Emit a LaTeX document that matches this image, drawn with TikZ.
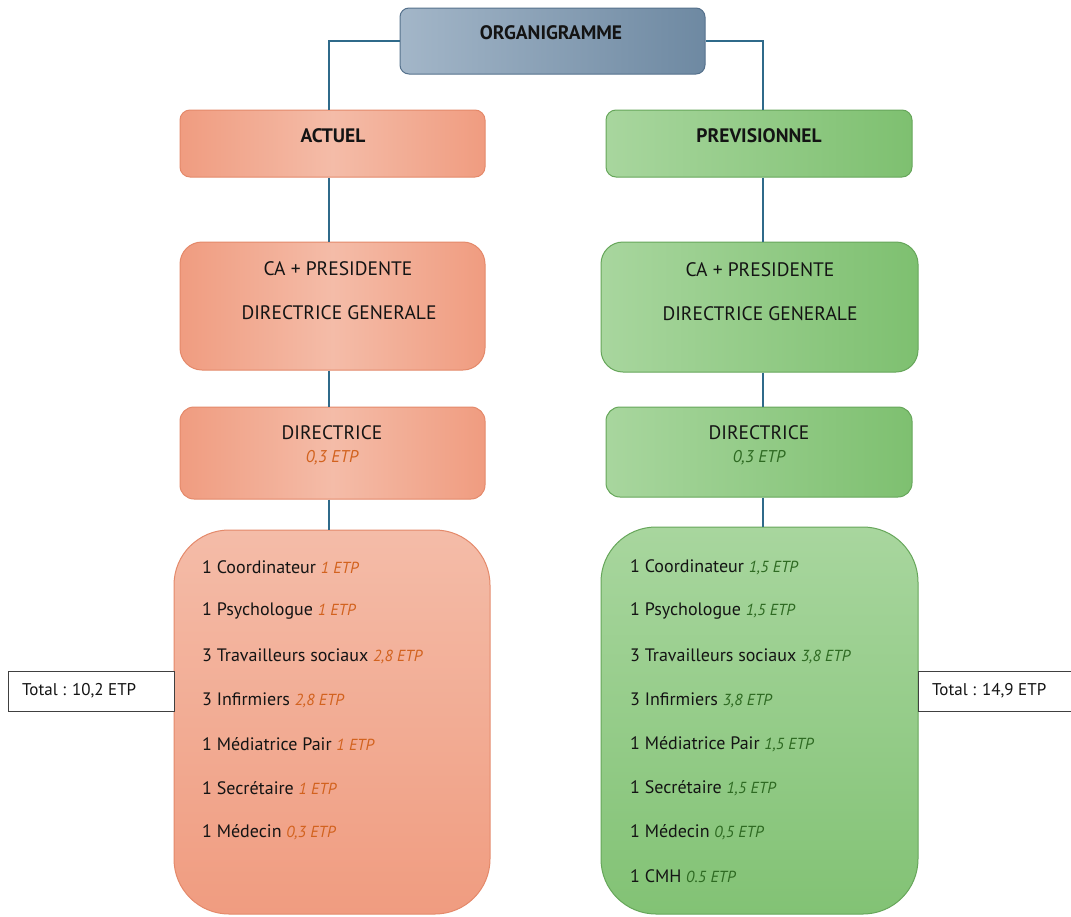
\documentclass[tikz,border=0pt]{standalone}
\usepackage{fontspec}
\setmainfont{PT Sans}
\definecolor{linec}{HTML}{2F6A8A}
\definecolor{orgL}{HTML}{A3B6C8}
\definecolor{orgR}{HTML}{6E89A2}
\definecolor{orgB}{HTML}{55718C}
\definecolor{orE}{HTML}{F09C80}
\definecolor{orM}{HTML}{F4BCA8}
\definecolor{orB}{HTML}{E4896A}
\definecolor{grL}{HTML}{A8D69E}
\definecolor{grR}{HTML}{7EC070}
\definecolor{grB}{HTML}{66A65A}
\definecolor{etpO}{HTML}{D2621E}
\definecolor{etpG}{HTML}{2E6A22}
\definecolor{txt}{HTML}{141414}
\begin{document}
\begin{tikzpicture}[x=1pt,y=-1pt,
  conn/.style={draw=linec,line width=1.8pt},
  orgbox/.style={draw=orgB,line width=1pt,rounded corners=9pt,left color=orgL,right color=orgR},
  obox/.style={draw=orB,line width=1pt,left color=orE,right color=orE,middle color=orM},
  gbox/.style={draw=grB,line width=1pt,left color=grL,right color=grR},
  obig/.style={draw=orB,line width=1pt,top color=orM,bottom color=orE},
  gbig/.style={draw=grB,line width=1pt,top color=grL,bottom color=grR!90!grL},
  head/.style={font=\fontsize{19.5}{22}\selectfont\bfseries,text=txt,inner sep=0pt},
  plain/.style={font=\fontsize{19.5}{22}\selectfont,text=txt,inner sep=0pt},
  item/.style={font=\fontsize{18}{21}\selectfont,text=txt,inner sep=0pt,anchor=west},
  totbox/.style={draw=black!75,line width=0.8pt,fill=white,inner sep=0pt},
]
\useasboundingbox (0,0) rectangle (1071,916);
% boxes
\node[orgbox,minimum width=305pt,minimum height=66pt] (org) at (552.5,41) {};
\node[obox,rounded corners=10pt,minimum width=305pt,minimum height=67pt] (act) at (332.5,143.5) {};
\node[gbox,rounded corners=10pt,minimum width=306pt,minimum height=67pt] (prev) at (759,143.5) {};
\node[obox,rounded corners=22pt,minimum width=305pt,minimum height=128pt] (caL) at (332.5,306) {};
\node[gbox,rounded corners=22pt,minimum width=317pt,minimum height=130pt] (caR) at (759.5,307) {};
\node[obox,rounded corners=14pt,minimum width=305pt,minimum height=92pt] (dirL) at (332.5,453) {};
\node[gbox,rounded corners=14pt,minimum width=306pt,minimum height=90pt] (dirR) at (759,452) {};
\node[obig,rounded corners=55pt,minimum width=316pt,minimum height=384pt] (bigL) at (332,722) {};
\node[gbig,rounded corners=55pt,minimum width=317pt,minimum height=387pt] (bigR) at (759.5,720.5) {};
\node[totbox,minimum width=166pt,minimum height=40pt] (totL) at (91,691) {};
\node[totbox,minimum width=160pt,minimum height=40pt] (totR) at (998,691) {};
% connector anchors
\coordinate (xl) at (329,0);
\coordinate (xr) at (763,0);
\draw[conn] (org.west) -| (act.north-|xl);
\draw[conn] (org.east) -| (prev.north-|xr);
\draw[conn] (act.south-|xl) -- (caL.north-|xl);
\draw[conn] (prev.south-|xr) -- (caR.north-|xr);
\draw[conn] (caL.south-|xl) -- (dirL.north-|xl);
\draw[conn] (caR.south-|xr) -- (dirR.north-|xr);
\draw[conn] (dirL.south-|xl) -- (bigL.north-|xl);
\draw[conn] (dirR.south-|xr) -- (bigR.north-|xr);
% texts
\node[head] (torg) at (551,33) {ORGANIGRAMME};
\node[head] (tact) at (333,136) {ACTUEL};
\node[head] (tprev) at (759,136) {PREVISIONNEL};
\node[plain] (caL1) at (338,269) {CA + PRESIDENTE};
\node[plain] (caL2) at (339,313) {DIRECTRICE GENERALE};
\node[plain] (caR1) at (760,270) {CA + PRESIDENTE};
\node[plain] (caR2) at (760,314) {DIRECTRICE GENERALE};
\node[plain] (dL1) at (332,433) {DIRECTRICE};
\node[plain,font=\fontsize{17}{20}\selectfont\itshape,text=etpO] (dL2) at (332,458) {0,3 ETP};
\node[plain] (dR1) at (759,433) {DIRECTRICE};
\node[plain,font=\fontsize{17}{20}\selectfont\itshape,text=etpG] (dR2) at (759,458) {0,3 ETP};
\newcommand{\eo}[1]{{\fontsize{16}{19}\selectfont\itshape\color{etpO}#1}}
\newcommand{\eg}[1]{{\fontsize{16}{19}\selectfont\itshape\color{etpG}#1}}
\node[item] (l1) at (202,567) {1 Coordinateur \eo{1 ETP}};
\node[item] (l2) at (202,611) {1 Psychologue \eo{1 ETP}};
\node[item] (l3) at (202,656) {3 Travailleurs sociaux \eo{2,8 ETP}};
\node[item] (l4) at (202,700) {3 Infirmiers \eo{2,8 ETP}};
\node[item] (l5) at (202,744) {1 Médiatrice Pair \eo{1 ETP}};
\node[item] (l6) at (202,788) {1 Secrétaire \eo{1 ETP}};
\node[item] (l7) at (202,832) {1 Médecin \eo{0,3 ETP}};
\node[item] (r1) at (630,567) {1 Coordinateur \eg{1,5 ETP}};
\node[item] (r2) at (630,611) {1 Psychologue \eg{1,5 ETP}};
\node[item] (r3) at (630,656) {3 Travailleurs sociaux \eg{3,8 ETP}};
\node[item] (r4) at (630,700) {3 Infirmiers \eg{3,8 ETP}};
\node[item] (r5) at (630,744) {1 Médiatrice Pair \eg{1,5 ETP}};
\node[item] (r6) at (630,788) {1 Secrétaire \eg{1,5 ETP}};
\node[item] (r7) at (630,832) {1 Médecin \eg{0,5 ETP}};
\node[item] (r8) at (630,876) {1 CMH \eg{0.5 ETP}};
\node[item,font=\fontsize{17}{20}\selectfont] (tl) at (22,691) {Total : 10,2 ETP};
\node[item,font=\fontsize{17}{20}\selectfont] (tr) at (932,691) {Total : 14,9 ETP};
\end{tikzpicture}
\end{document}
